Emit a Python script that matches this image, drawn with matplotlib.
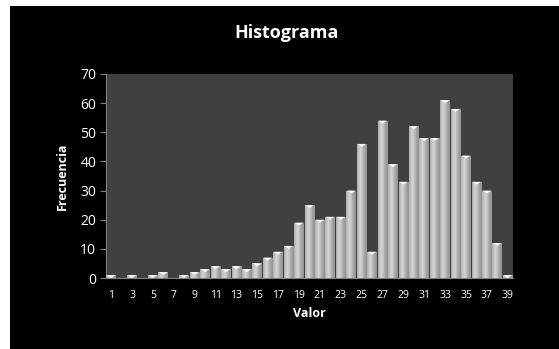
import numpy as np
import matplotlib
matplotlib.use("Agg")
import matplotlib.pyplot as plt
from matplotlib.path import Path

valores = np.arange(1, 40)
frecuencias = [1, 0, 1, 0, 1, 2, 0, 1, 2, 3, 4, 3, 4, 3, 5, 7, 9, 11, 19, 25,
               20, 21, 21, 30, 46, 9, 54, 39, 33, 52, 48, 48, 61, 58, 42, 33,
               30, 12, 1]
xticks = np.arange(1, 40, 2)
yticks = np.arange(0, 71, 10)

plt.rcParams['font.family'] = ['Open Sans', 'DejaVu Sans']

fig = plt.figure(figsize=(5.59, 3.49), dpi=100, facecolor='white')
# black chart area, white strip at top and left like the reference
fig.patches.append(plt.Rectangle((10 / 559, 0), 1, 1 - 6 / 349,
                                 transform=fig.transFigure,
                                 facecolor='black', zorder=-10))

ax = fig.add_axes([106 / 559, 1 - 278 / 349, 407 / 559, 204 / 349])
ax.set_facecolor('#404040')

bars = ax.bar(valores, frecuencias, width=0.94, color='#a6a6a6',
              edgecolor='none', zorder=2)

# horizontal gradient inside each bar
grad = np.linspace(0, 1, 64)
grad = 0.58 + 0.24 * np.exp(-((grad - 0.35) / 0.35) ** 2)
grad = np.tile(grad, (2, 1))
for b in bars:
    if b.get_height() <= 0:
        continue
    x0 = b.get_x()
    im = ax.imshow(grad, cmap='gray', vmin=0, vmax=1, aspect='auto',
                   extent=(x0, x0 + b.get_width(), 0, b.get_height()),
                   zorder=3, interpolation='bilinear')
    im.set_clip_path(b)

# white bevel cap just inside the top of each bar
cap = Path([(-1, 0), (1, 0), (0, -0.6), (-1, 0)],
           [Path.MOVETO, Path.LINETO, Path.LINETO, Path.CLOSEPOLY])
nz = [(v, f) for v, f in zip(valores, frecuencias) if f > 0]
ax.scatter([v for v, f in nz], [f for v, f in nz], marker=cap, s=40,
           color='white', edgecolors='none', zorder=4, clip_on=False)

ax.set_xlim(0.5, 39.5)
ax.set_ylim(0, 70)
ax.set_xticks(xticks)
ax.set_yticks(yticks)
ax.tick_params(axis='x', length=0, colors='white', labelsize=7.5, pad=9)
ax.tick_params(axis='y', length=4, color='#808080', colors='white',
               labelsize=10, pad=3)
ax.tick_params(axis='y', color='#808080')
for s in ['top', 'right']:
    ax.spines[s].set_visible(False)
ax.spines['left'].set_color('#808080')
ax.spines['bottom'].set_color('#808080')

ax.set_xlabel('Valor', color='white', fontsize=9, fontweight='bold',
              labelpad=4)
ax.set_ylabel('Frecuencia', color='white', fontsize=9, fontweight='bold',
              labelpad=8)
fig.text(287 / 559, 1 - 33 / 349, 'Histograma', color='white',
         fontsize=13, fontweight='bold', ha='center', va='center')

fig.savefig('out.png', dpi=100, facecolor='white')
